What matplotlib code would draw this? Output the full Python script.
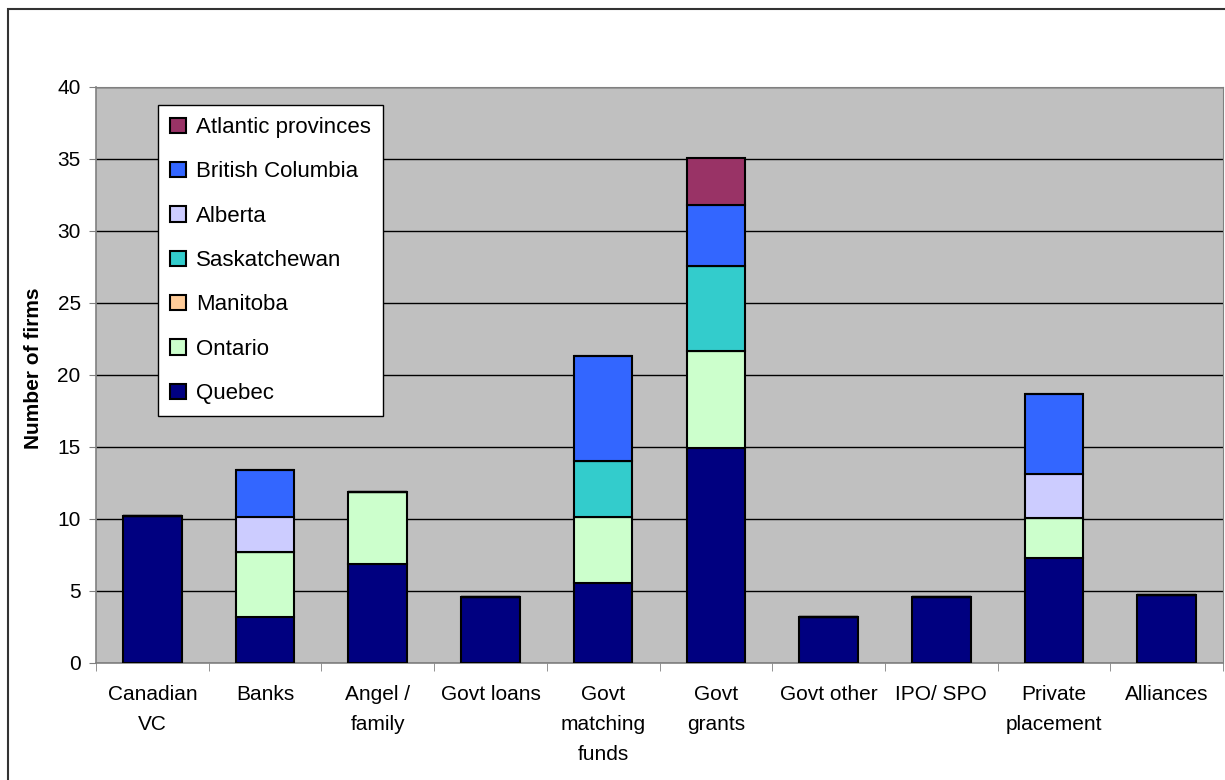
import numpy as np
import matplotlib.pyplot as plt
import matplotlib.patches as patches

plt.rcParams['font.family'] = ['Liberation Sans', 'DejaVu Sans']

categories = ['Canadian\nVC', 'Banks', 'Angel /\nfamily', 'Govt loans',
              'Govt\nmatching\nfunds', 'Govt\ngrants', 'Govt other',
              'IPO/ SPO', 'Private\nplacement', 'Alliances']

# stacked bottom -> top
quebec       = [10.2, 3.2, 6.9, 4.6, 5.55, 14.9, 3.2, 4.6, 7.3, 4.75]
ontario      = [0, 4.5, 5.0, 0, 4.6, 6.8, 0, 0, 2.8, 0]
manitoba     = [0, 0, 0, 0, 0, 0, 0, 0, 0, 0]
saskatchewan = [0, 0, 0, 0, 3.85, 5.9, 0, 0, 0, 0]
alberta      = [0, 2.45, 0, 0, 0, 0, 0, 0, 3.0, 0]
bc           = [0, 3.25, 0, 0, 7.3, 4.2, 0, 0, 5.6, 0]
atlantic     = [0, 0, 0, 0, 0, 3.3, 0, 0, 0, 0]

series = [
    ('Quebec', quebec, '#000080'),
    ('Ontario', ontario, '#ccffcc'),
    ('Manitoba', manitoba, '#ffcc99'),
    ('Saskatchewan', saskatchewan, '#33cccc'),
    ('Alberta', alberta, '#ccccff'),
    ('British Columbia', bc, '#3366ff'),
    ('Atlantic provinces', atlantic, '#993366'),
]

fig = plt.figure(figsize=(12.25, 7.8), dpi=100)
ax = fig.add_axes([96/1225, 1 - 663/780, 1127/1225, 576/780])
ax.set_facecolor('#c0c0c0')

x = np.arange(len(categories))
bottom = np.zeros(len(categories))
handles = []
for name, vals, col in series:
    vals = np.array(vals)
    h = ax.bar(x, vals, 0.52, bottom=bottom, color=col, edgecolor='black',
               linewidth=1.5, label=name, zorder=3)
    handles.append(h)
    bottom += vals

ax.set_xlim(-0.5, len(categories) - 0.5)
ax.set_ylim(0, 40)
ax.set_yticks(range(0, 41, 5))
ax.yaxis.grid(True, color='black', linewidth=1, zorder=0)
ax.set_axisbelow(True)

ax.set_xticks(x)
ax.set_xticklabels(categories, fontsize=15, linespacing=1.72)
ax.set_xticks(np.arange(-0.5, len(categories)), minor=True)
ax.tick_params(axis='x', which='major', length=0, pad=16)
ax.tick_params(axis='x', which='minor', length=6, color='#808080', direction='out')
ax.tick_params(axis='y', labelsize=15, length=5, color='#808080', pad=6)

for s in ['top', 'right']:
    ax.spines[s].set_color('#808080')
for s in ['left', 'bottom']:
    ax.spines[s].set_color('#808080')
    ax.spines[s].set_linewidth(1.2)

ax.set_ylabel('Number of firms', fontsize=15, fontweight='bold')
ax.yaxis.set_label_coords(-0.047, 0.512)

leg = ax.legend(handles[::-1], [s[0] for s in series][::-1],
                loc='upper left', bbox_to_anchor=(0.055, 0.969),
                fontsize=16, frameon=True, fancybox=False, framealpha=1,
                edgecolor='black', labelspacing=1.05, handlelength=0.7,
                handleheight=0.7, handletextpad=0.45, borderpad=0.55,
                borderaxespad=0)
leg.get_frame().set_linewidth(1)
leg.set_zorder(5)

# outer chart frame
fig.patches.append(patches.Rectangle((8/1225, -0.05), 1.1, 1 - 9/780 + 0.05,
                                     transform=fig.transFigure, fill=False,
                                     edgecolor='#333333', linewidth=1.5))

fig.savefig('out.png', dpi=100)
